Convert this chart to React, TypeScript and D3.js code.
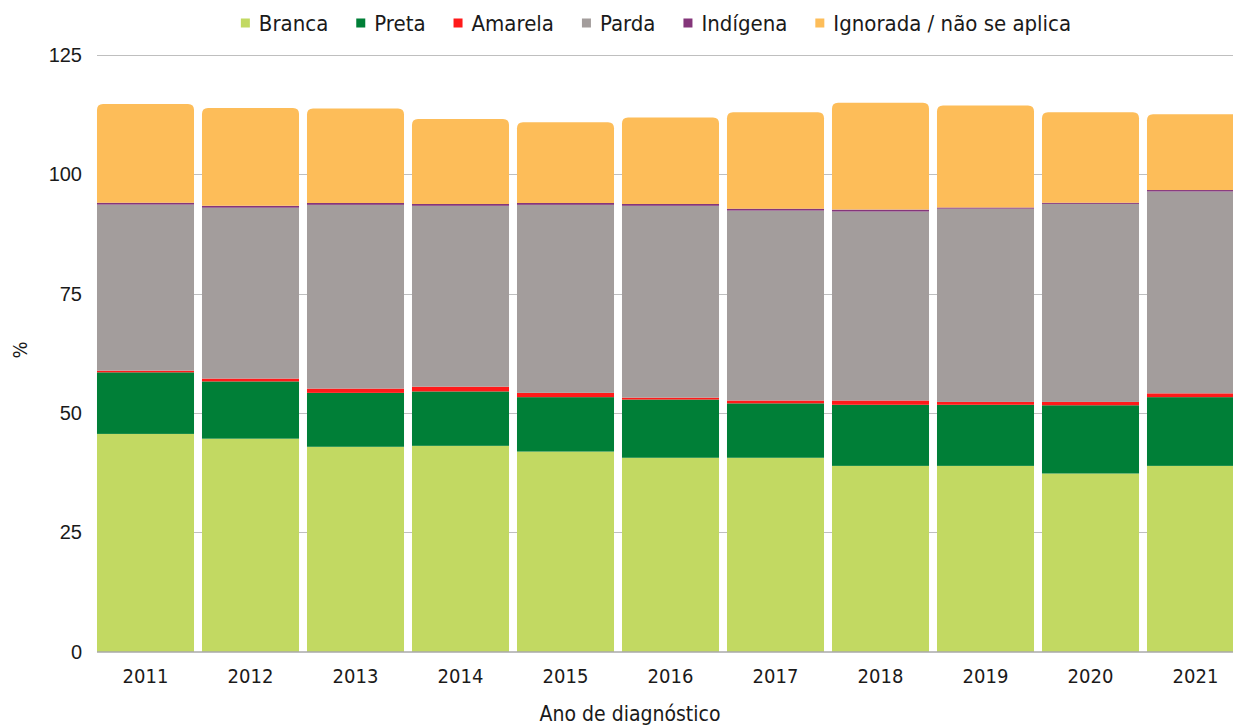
import React, { useEffect, useRef } from 'react';
import * as d3 from 'd3';

// Share of diagnoses by race/colour (%), per year of diagnosis
const years = ['2011', '2012', '2013', '2014', '2015', '2016', '2017', '2018', '2019', '2020', '2021'];
const branca = [45.6, 44.6, 42.9, 43.1, 41.9, 40.6, 40.6, 38.9, 38.9, 37.3, 38.9];
const preta = [12.9, 12.0, 11.3, 11.4, 11.4, 12.2, 11.4, 12.8, 12.8, 14.3, 14.4];
const amarela = [0.35, 0.6, 0.9, 1.0, 0.9, 0.4, 0.6, 0.9, 0.6, 0.7, 0.8];
const parda = [34.8, 35.8, 38.5, 37.9, 39.4, 40.2, 39.8, 39.6, 40.5, 41.5, 42.3];
const indigena = [0.4, 0.4, 0.4, 0.4, 0.4, 0.4, 0.4, 0.4, 0.25, 0.25, 0.3];
const ignorada = [20.7, 20.5, 19.8, 17.8, 16.9, 18.1, 20.2, 22.4, 21.35, 18.95, 15.9];

const seriesNames = ['Branca', 'Preta', 'Amarela', 'Parda', 'Indígena', 'Ignorada / não se aplica'];
const seriesValues = [branca, preta, amarela, parda, indigena, ignorada];
const seriesColors = ['#C2D962', '#007F37', '#FF1A1A', '#A39D9C', '#84367A', '#FDBD59'];
const yTicks = [0, 25, 50, 75, 100, 125];

const W = 1233;
const H = 726;
const margin = { left: 93, right: -15, top: 55, bottom: 74 };
const labelFont = "'DejaVu Sans Condensed', 'DejaVu Sans', sans-serif";
const numFont = "'Liberation Sans', Arial, sans-serif";

function topRoundedPath(x: number, y: number, w: number, h: number, r: number) {
  const rr = Math.min(r, h, w / 2);
  return `M${x},${y + h}V${y + rr}Q${x},${y} ${x + rr},${y}H${x + w - rr}Q${x + w},${y} ${x + w},${y + rr}V${y + h}Z`;
}

export default function App() {
  const legendRef = useRef<SVGGElement>(null);

  const rows = years.map((year, i) => {
    const row: Record<string, any> = { year };
    seriesNames.forEach((name, s) => (row[name] = seriesValues[s][i]));
    return row;
  });
  const stacked = d3.stack<any>().keys(seriesNames)(rows);

  const x = d3
    .scaleBand<string>()
    .domain(years)
    .range([margin.left, W - margin.right])
    .paddingInner(0.076)
    .paddingOuter(0.038);
  const y = d3
    .scaleLinear()
    .domain([0, 125])
    .range([H - margin.bottom - 0.5, margin.top]);

  const gridLeft = 97;
  const gridRight = W;

  // Legend laid out from measured text widths, centred above the plot
  useEffect(() => {
    const g = d3.select(legendRef.current);
    g.selectAll('*').remove();
    const sw = 9;
    const gapSwatch = 9;
    const gapItem = 28;
    const items = g
      .selectAll('g.item')
      .data(seriesNames)
      .join('g')
      .attr('class', 'item');
    items
      .append('rect')
      .attr('width', sw)
      .attr('height', sw)
      .attr('y', -sw / 2)
      .attr('fill', (_d, i) => seriesColors[i]);
    items
      .append('text')
      .attr('x', sw + gapSwatch)
      .attr('dy', '0.35em')
      .attr('font-family', labelFont)
      .attr('font-size', 22)
      .attr('fill', '#1a1a1a')
      .text((d) => d);
    let cx = 0;
    items.each(function () {
      const t = d3.select(this).select('text').node() as SVGTextElement;
      const wItem = sw + gapSwatch + t.getComputedTextLength();
      d3.select(this).attr('transform', `translate(${cx},0)`);
      cx += wItem + gapItem;
    });
    const total = cx - gapItem;
    g.attr('transform', `translate(${656 - total / 2},23)`);
  }, []);

  return (
    <svg
      width={W}
      height={H}
      style={{ position: 'absolute', left: 0, top: 0, display: 'block', background: '#fff' }}
    >
      {/* gridlines and value axis labels */}
      {yTicks.map((t) => (
        <g key={t}>
          {t > 0 && (
            <line x1={gridLeft} x2={gridRight} y1={Math.round(y(t)) + 0.5} y2={Math.round(y(t)) + 0.5} stroke="#BFBFBF" strokeWidth={1} />
          )}
          <text
            x={82}
            y={y(t)}
            dy="0.35em"
            textAnchor="end"
            fontFamily={numFont}
            fontSize={20}
            fill="#1a1a1a"
          >
            {t}
          </text>
        </g>
      ))}

      {/* stacked bars */}
      {stacked.map((layer, s) => (
        <g key={layer.key} fill={seriesColors[s]}>
          {layer.map((d, i) => {
            const x0 = x(years[i]) as number;
            const bw = x.bandwidth();
            const yTop = y(d[1]);
            const yBot = y(d[0]);
            if (s === stacked.length - 1) {
              return <path key={i} d={topRoundedPath(x0, yTop, bw, yBot - yTop, 6)} />;
            }
            return <rect key={i} x={x0} y={yTop} width={bw} height={yBot - yTop} />;
          })}
        </g>
      ))}

      {/* category axis */}
      <line x1={gridLeft} x2={gridRight} y1={y(0) + 0.5} y2={y(0) + 0.5} stroke="#7F7F7F" strokeWidth={1} />
      {years.map((yr) => (
        <text
          key={yr}
          x={(x(yr) as number) + x.bandwidth() / 2}
          y={676}
          dy="0.35em"
          textAnchor="middle"
          fontFamily={labelFont}
          fontSize={20}
          fill="#1a1a1a"
        >
          {yr}
        </text>
      ))}
      <text x={630} y={714} dy="0.35em" textAnchor="middle" fontFamily={labelFont} fontSize={21} fill="#1a1a1a">
        Ano de diagnóstico
      </text>
      <text
        transform={`translate(20,350) rotate(-90)`}
        dy="0.35em"
        textAnchor="middle"
        fontFamily={labelFont}
        fontSize={20}
        fill="#1a1a1a"
      >
        %
      </text>

      <g ref={legendRef} />
    </svg>
  );
}
